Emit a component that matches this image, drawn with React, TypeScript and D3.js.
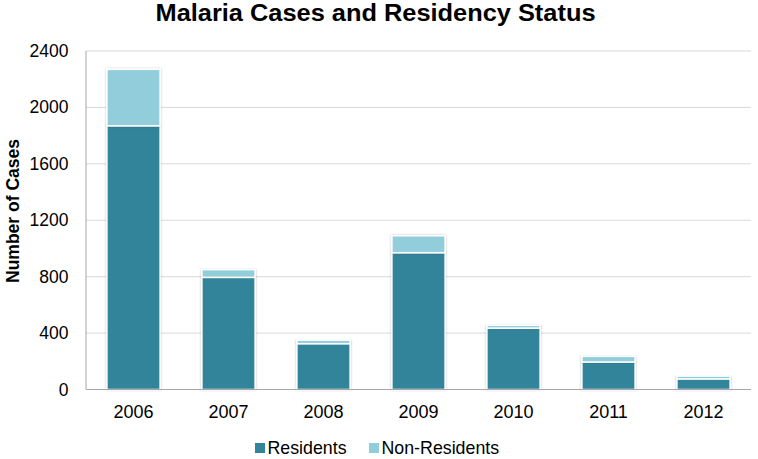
import React from "react";
import * as d3 from "d3";

const years = ["2006", "2007", "2008", "2009", "2010", "2011", "2012"];
const residents = [1870, 795, 325, 970, 435, 195, 75];
const nonResidents = [400, 55, 25, 120, 20, 40, 20];
const yTicks = [0, 400, 800, 1200, 1600, 2000, 2400];
const seriesNames = ["Residents", "Non-Residents"];
const colors = ["#31849B", "#92CDDC"];

const W = 758;
const H = 459;
const M = { left: 86, right: 751, top: 51, bottom: 389.5 };

export default function App() {
  const x = d3.scaleBand<string>().domain(years).range([M.left, M.right]).paddingInner(0.44).paddingOuter(0.22);
  const y = d3.scaleLinear().domain([0, 2400]).range([M.bottom, M.top]);
  const rows = years.map((yr, i) => ({ year: yr, Residents: residents[i], "Non-Residents": nonResidents[i] }));
  const stack = d3.stack<any>().keys(seriesNames)(rows);
  const font = "Arial, 'Liberation Sans', sans-serif";
  return (
    <svg width={W} height={H} style={{ position: "absolute", left: 0, top: 0 }} fontFamily={font}>
      <defs>
        <filter id="sh" x="-20%" y="-20%" width="140%" height="140%">
          <feDropShadow dx="0" dy="0" stdDeviation="1.2" floodColor="#000" floodOpacity="0.25" />
        </filter>
      </defs>
      <rect width={W} height={H} fill="#fff" />
      <text x={155.5} y={21} fontSize={23.5} fontWeight="bold" fill="#000" textLength={440} lengthAdjust="spacingAndGlyphs">
        Malaria Cases and Residency Status
      </text>
      {yTicks.slice(1).map((t) => (
        <line key={t} x1={M.left} x2={M.right} y1={y(t)} y2={y(t)} stroke="#D9D9D9" strokeWidth={1} />
      ))}
      <line x1={M.left} x2={M.left} y1={M.top} y2={M.bottom} stroke="#A6A6A6" strokeWidth={1} />
      {yTicks.map((t) => (
        <text key={t} x={68.5} y={y(t) + 6} textAnchor="end" fontSize={17.5} fill="#000">
          {t}
        </text>
      ))}
      <text transform={`translate(19,211) rotate(-90)`} textAnchor="middle" fontSize={17.5} fontWeight="bold" fill="#000">
        Number of Cases
      </text>
      {stack.map((s, si) => (
        <g key={s.key}>
          {s.map((d, i) => (
            <rect
              key={i}
              x={x(years[i])}
              y={y(d[1])}
              width={x.bandwidth()}
              height={Math.max(0, y(d[0]) - y(d[1]))}
              fill={colors[si]}
              stroke="#fff"
              strokeWidth={1.5}
              filter="url(#sh)"
            />
          ))}
        </g>
      ))}
      <line x1={M.left} x2={M.right} y1={M.bottom} y2={M.bottom} stroke="#A6A6A6" strokeWidth={1.2} />
      {years.map((yr) => (
        <text key={yr} x={(x(yr) as number) + x.bandwidth() / 2} y={417.5} textAnchor="middle" fontSize={18} fill="#000">
          {yr}
        </text>
      ))}
      <g>
        <rect x={255} y={443} width={10} height={10} fill={colors[0]} />
        <text x={267.5} y={454} fontSize={17.8} fill="#000">{seriesNames[0]}</text>
        <rect x={369} y={443} width={10} height={10} fill={colors[1]} />
        <text x={381.5} y={454} fontSize={17.8} fill="#000">{seriesNames[1]}</text>
      </g>
    </svg>
  );
}
